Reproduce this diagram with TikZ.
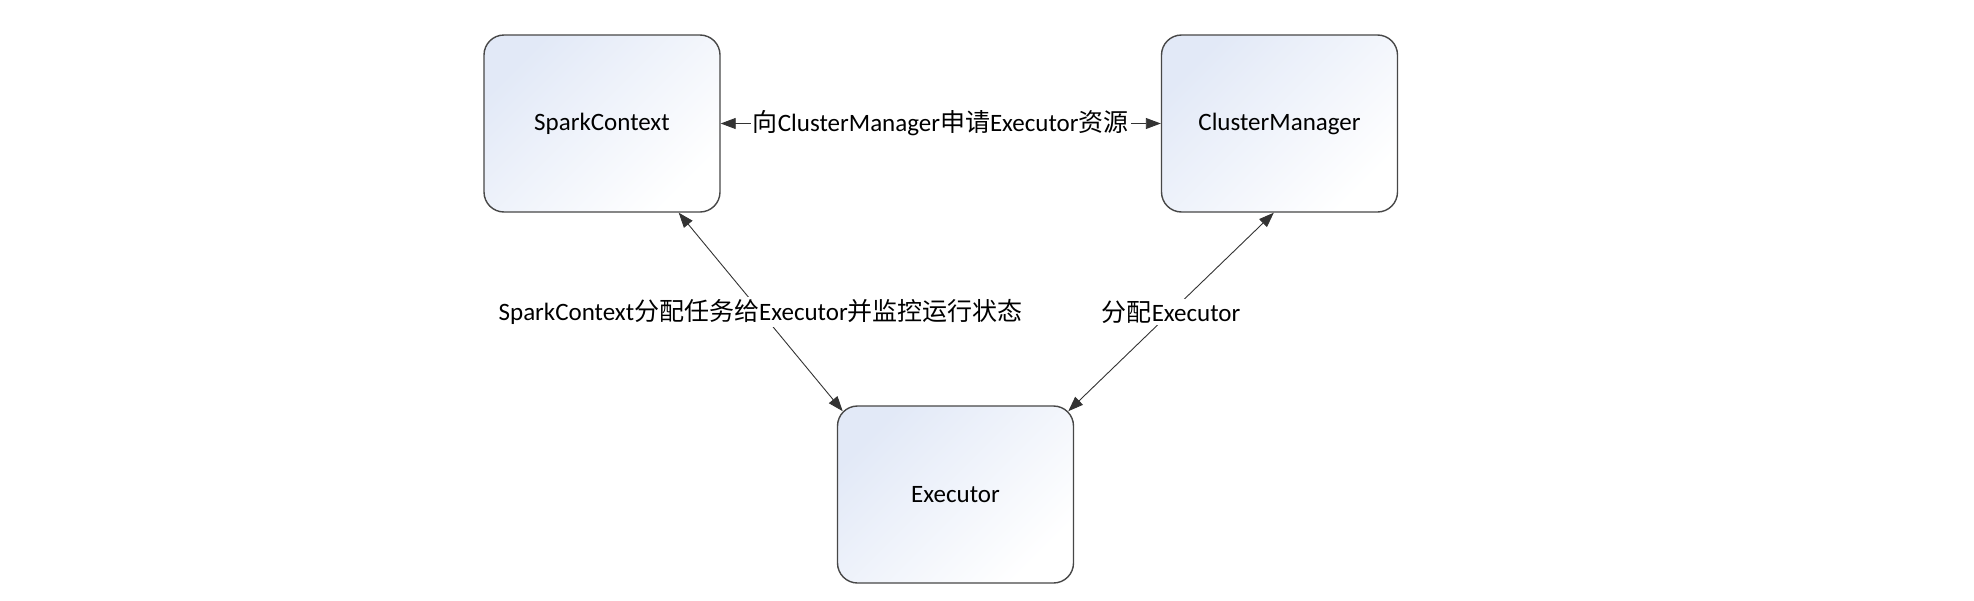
\documentclass[tikz,border=0pt]{standalone}
\usepackage{fontspec}
\setmainfont{Carlito}
\newfontfamily\cjk{Noto Sans CJK SC}
\usetikzlibrary{arrows.meta,calc}
\definecolor{boxblue}{RGB}{226,233,247}
\begin{document}
\begin{tikzpicture}[x=1pt,y=-1pt,
  box/.style={draw=black!72, line width=1.4pt, rounded corners=20pt,
    minimum width=236pt, minimum height=177pt, inner sep=0pt,
    top color=boxblue, bottom color=white, shading angle=45,
    font=\fontsize{25}{30}\selectfont},
  conn/.style={draw=black!80, line width=0.9pt, {Triangle[length=15pt,width=11pt]}-{Triangle[length=15pt,width=11pt]}},
  lbl/.style={fill=white, inner sep=2pt, font=\fontsize{25}{30}\selectfont}]
\useasboundingbox (0,0) rectangle (1974,600);
\node[box] (sc) at (602,123.5) {SparkContext};
\node[box] (cm) at (1279.5,123.5) {ClusterManager};
\node[box] (ex) at (955.5,494.5) {Executor};
\coordinate (scb) at ($(sc.south east)+(-42,0)$);
\coordinate (cmb) at ($(cm.south west)+(113,0)$);
\coordinate (exl) at ($(ex.north west)+(5.9,5.9)$);
\coordinate (exr) at ($(ex.north east)+(-5.9,5.9)$);
\draw[conn] (sc.east) -- node[lbl]{{\cjk 向}ClusterManager{\cjk 申请}Executor{\cjk 资源}} (cm.west);
\draw[conn] (scb) -- node[lbl]{SparkContext{\cjk 分配任务给}Executor{\cjk 并监控运行状态}} (exl);
\draw[conn] (cmb) -- node[lbl]{{\cjk 分配}Executor} (exr);
\end{tikzpicture}
\end{document}
